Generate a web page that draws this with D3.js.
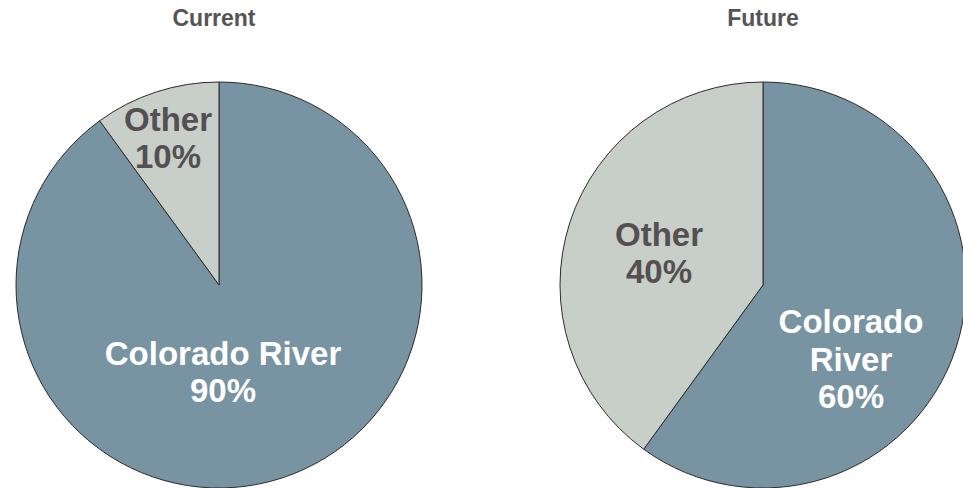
<!DOCTYPE html>
<html>
<head>
<meta charset="utf-8">
<script src="https://cdn.jsdelivr.net/npm/d3@7"></script>
<style>
  html, body { margin: 0; padding: 0; background: #fff; }
  svg { display: block; }
  text { font-family: "Liberation Sans", Arial, Helvetica, sans-serif; font-weight: bold; }
</style>
</head>
<body>
<svg id="chart" width="963" height="488"></svg>
<script>
// ---- data ----
const pieTitles = ["Current", "Future"];
const categories = ["Colorado River", "Other"];
const currentValues = [90, 10];
const futureValues = [60, 40];
// label lines per pie (per slice)
const currentLabels = [["Colorado River", "90%"], ["Other", "10%"]];
const futureLabels = [["Colorado", "River", "60%"], ["Other", "40%"]];

// ---- layout / style ----
const W = 963, H = 488;
const radius = 203;
const centers = [[219, 285], [763, 285]];
const sliceColors = ["#7893a1", "#c8cec8"];
const labelColors = ["#ffffff", "#545051"];
// label anchor offsets relative to each pie centre (layout only)
const labelOffsets = [
  [[4, 87], [-51, -147]],
  [[88, 74], [-104, -32]]
];
const lineHeight = 37.5;
const labelFontSize = 33;

const svg = d3.select("#chart");
const color = d3.scaleOrdinal().domain(categories).range(sliceColors);
const textColor = d3.scaleOrdinal().domain(categories).range(labelColors);

const pie = d3.pie().sort(null).value(d => d.value);
const arc = d3.arc().innerRadius(0).outerRadius(radius);

const datasets = [currentValues, futureValues];
const labelSets = [currentLabels, futureLabels];

datasets.forEach((vals, i) => {
  const data = categories.map((c, j) => ({ cat: c, value: vals[j], lines: labelSets[i][j], off: labelOffsets[i][j] }));
  const g = svg.append("g").attr("transform", `translate(${centers[i][0]},${centers[i][1]})`);

  g.selectAll("path.slice")
    .data(pie(data))
    .join("path")
    .attr("class", "slice")
    .attr("d", arc)
    .attr("fill", d => color(d.data.cat))
    .attr("stroke", "#2b2b2b")
    .attr("stroke-width", 1);

  // labels
  pie(data).forEach(d => {
    const lines = d.data.lines;
    const n = lines.length;
    const t = g.append("text")
      .attr("text-anchor", "middle")
      .attr("fill", textColor(d.data.cat))
      .attr("font-size", labelFontSize);
    lines.forEach((ln, k) => {
      t.append("tspan")
        .attr("x", d.data.off[0])
        .attr("y", d.data.off[1] + (k - (n - 1) / 2) * lineHeight + labelFontSize * 0.35)
        .text(ln);
    });
  });

  svg.append("text")
    .attr("x", centers[i][0] - (i === 0 ? 5 : 0))
    .attr("y", 26)
    .attr("text-anchor", "middle")
    .attr("fill", "#555555")
    .attr("font-size", 23)
    .text(pieTitles[i]);
});
</script>
</body>
</html>
